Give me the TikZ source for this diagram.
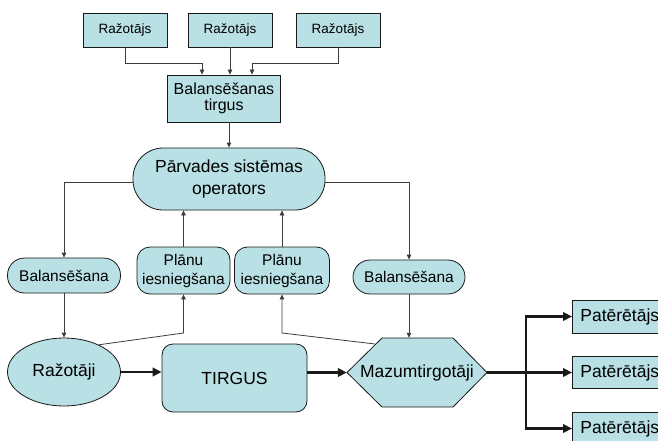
\documentclass[tikz,border=0pt]{standalone}
\usepackage{fontspec}
\setmainfont{Liberation Sans}
\usetikzlibrary{arrows.meta,shapes.geometric,calc}
\definecolor{fg}{RGB}{25,25,25}
\definecolor{ln}{RGB}{60,60,60}
\definecolor{bx}{RGB}{185,224,229}
\tikzset{
  every picture/.style={x=1pt, y=-1pt, >={Triangle[length=5pt,width=4.5pt]}},
  % Knoten
  feld/.style={draw=fg, fill=bx, line width=0.8pt, inner sep=0pt, align=center},
  kasten/.style={feld, rectangle},
  rund/.style={feld, rectangle, rounded corners=#1},
  klein/.style={font=\fontsize{13.5}{15}\selectfont},
  mittel/.style={font=\fontsize{15.5}{19}\selectfont},
  gross/.style={font=\fontsize{17.5}{21.5}\selectfont},
  % Verbindungen
  con/.style={ln, line width=0.8pt},
  pfeil/.style={con, ->},
  dick/.style={fg, line width=2.6pt},
  dickpfeil/.style={dick, -{Triangle[length=9pt,width=8.5pt]}},
}
\begin{document}
\begin{tikzpicture}
  \useasboundingbox (0,0) rectangle (658,441);
  % Erzeuger oben
  \node[kasten, klein, minimum width=84pt, minimum height=34pt] (erz1) at (125,30) {Ražotājs};
  \node[kasten, klein, minimum width=84pt, minimum height=34pt] (erz2) at (230,30) {Ražotājs};
  \node[kasten, klein, minimum width=84pt, minimum height=34pt] (erz3) at (338,30) {Ražotājs};
  \node[kasten, font=\fontsize{16}{16.5}\selectfont, minimum width=113pt, minimum height=47pt]
    (bmarkt) at (224,98.5) {Balansēšanas\\tirgus};
  % Systembetreiber
  \node[rund=30pt, gross, minimum width=192pt, minimum height=62pt] (pso) at (229,179)
    {Pārvades sistēmas\\operators};
  % mittlere Reihe
  \node[rund=17pt, mittel, minimum width=113pt, minimum height=35pt] (balL) at (64,275.5) {Balansēšana};
  \node[rund=13pt, mittel, minimum width=93pt, minimum height=47pt] (plan1) at (183.5,270.5) {Plānu\\iesniegšana};
  \node[rund=13pt, mittel, minimum width=95pt, minimum height=47pt] (plan2) at (282,270.5) {Plānu\\iesniegšana};
  \node[rund=17pt, mittel, minimum width=112pt, minimum height=34pt] (balR) at (409,277) {Balansēšana};
  % untere Reihe
  \node[feld, ellipse, gross, minimum width=113pt, minimum height=68pt] (raz) at (64,372) {Ražotāji};
  \node[rund=11pt, gross, minimum width=145pt, minimum height=68pt] (markt) at (234.5,378) {TIRGUS};
  % Sechseck Einzelhandel: Spitzen links/rechts, 35pt tief
  \coordinate (mz) at (417,372.5);
  \filldraw[draw=fg, fill=bx, line width=0.8pt] ($(mz)+(-70,0)$) -- ++(35,-34.5) -- ++(71,0)
    -- ($(mz)+(70,0)$) -- ++(-34,34.5) -- ++(-71,0) -- cycle;
  \node[gross, inner sep=0pt, minimum width=140pt, minimum height=69pt] (maz) at (mz) {Mazumtirgotāji};
  % Verbraucher rechts (ragen über den Rand)
  \node[kasten, gross, anchor=west, minimum width=100pt, minimum height=33pt, text width=84pt, align=left]
    (pat1) at (572,316.5) {Patērētājs};
  \node[kasten, gross, anchor=west, minimum width=100pt, minimum height=32pt, text width=84pt, align=left]
    (pat2) at (572,372.5) {Patērētājs};
  \node[kasten, gross, anchor=west, minimum width=100pt, minimum height=33pt, text width=84pt, align=left]
    (pat3) at (572,428.5) {Patērētājs};

  % Erzeuger -> Balansmarkt
  \draw[pfeil] (erz1.south) -- +(0,16) -| ([xshift=-22pt]bmarkt.north);
  \draw[pfeil] (erz2.south) -- (erz2.south |- bmarkt.north);
  \draw[pfeil] (erz3.south) -- +(0,16) -| ([xshift=28pt]bmarkt.north);
  \draw[pfeil] (bmarkt.south -| pso.north) -- (pso.north);
  % Betreiber <-> mittlere Reihe
  \draw[pfeil] ([yshift=-3pt]pso.west) -| (balL.north);
  \draw[pfeil] ([yshift=-3pt]pso.east) -| (balR.north);
  \draw[pfeil] (plan1.north) -- (plan1.north |- pso.south);
  \draw[pfeil] (plan2.north) -- (plan2.north |- pso.south);
  % mittlere Reihe <-> untere Reihe
  \coordinate (k1) at (183.5,333);
  \coordinate (k2) at (282,333);
  \coordinate (mzk) at ($(mz)+(-42,-28.5)$);
  \draw[pfeil] (balL.south) -- (raz.north);
  \draw[pfeil] (raz.38) -- (k1) -- (plan1.south);
  \draw[pfeil] (mzk) -- (k2) -- (plan2.south);
  \draw[pfeil] (balR.south) -- (balR.south |- maz.north);
  % Warenfluss
  \draw[dickpfeil] (raz.east) -- (raz.east -| markt.west);
  \draw[dickpfeil] (markt.east |- maz.west) -- (maz.west);
  \coordinate (split) at (526,372.5);
  \draw[dick] (maz.east) -- (split);
  \draw[dickpfeil] (split) |- (pat1.west);
  \draw[dickpfeil] (split) -- (pat2.west);
  \draw[dickpfeil] (split) |- (pat3.west);
\end{tikzpicture}
\end{document}
